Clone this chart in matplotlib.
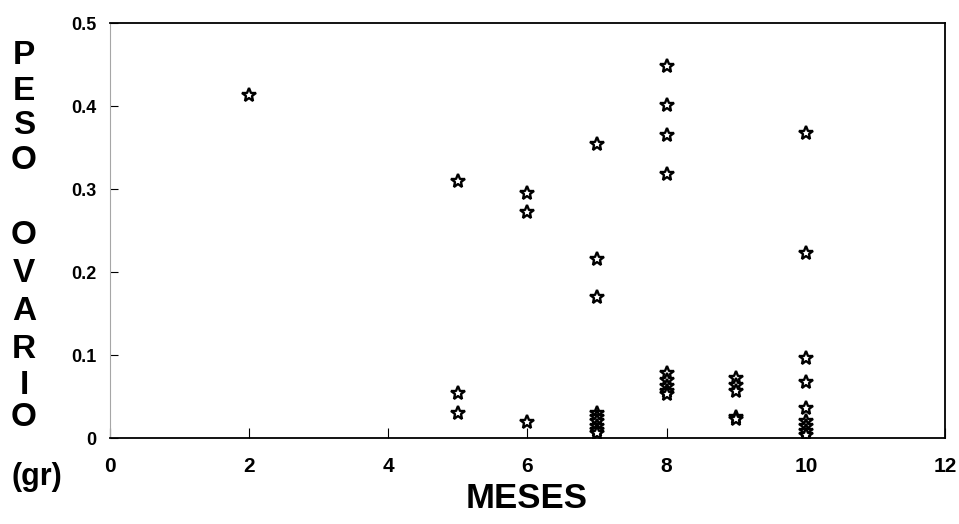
import matplotlib.pyplot as plt

# peso del ovario (gr) por mes
meses = [2,
         5, 5, 5,
         6, 6, 6,
         7, 7, 7, 7, 7, 7, 7, 7, 7,
         8, 8, 8, 8, 8, 8, 8, 8, 8,
         9, 9, 9, 9, 9,
         10, 10, 10, 10, 10, 10, 10, 10, 10]
peso = [0.413,
        0.310, 0.054, 0.030,
        0.295, 0.272, 0.019,
        0.354, 0.216, 0.170, 0.030, 0.025, 0.020, 0.015, 0.010, 0.006,
        0.448, 0.401, 0.365, 0.318, 0.078, 0.070, 0.063, 0.057, 0.053,
        0.072, 0.064, 0.057, 0.025, 0.023,
        0.367, 0.223, 0.096, 0.067, 0.036, 0.020, 0.014, 0.008, 0.004]

xticks = [0, 2, 4, 6, 8, 10, 12]
yticks = [0, 0.1, 0.2, 0.3, 0.4, 0.5]
ylabels = ['0', '0.1', '0.2', '0.3', '0.4', '0.5']

plt.rcParams['font.family'] = ['Liberation Sans', 'DejaVu Sans']
plt.rcParams['font.weight'] = 'bold'

fig = plt.figure(figsize=(9.59, 5.24), dpi=100)
ax = fig.add_axes([0.1147, 0.1641, 0.8707, 0.792])

ax.plot(meses, peso, linestyle='none', marker='*', markersize=10.5,
        markerfacecolor='white', markeredgecolor='black', markeredgewidth=1.7)

ax.set_xlim(0, 12)
ax.set_ylim(0, 0.5)
ax.set_xticks(xticks)
ax.set_yticks(yticks)
ax.set_yticklabels(ylabels)
ax.tick_params(axis='x', direction='in', length=7, labelsize=15, pad=14)
ax.tick_params(axis='y', direction='in', length=6, labelsize=13, pad=10)

for s in ['top', 'right', 'bottom']:
    ax.spines[s].set_linewidth(1.3)
ax.spines['left'].set_color('0.65')
ax.spines['left'].set_linewidth(0.8)
ax.spines['left'].set_linestyle((0, (4, 1)))

# etiqueta vertical, letra por letra
letras = ['P', 'E', 'S', 'O', 'O', 'V', 'A', 'R', 'I', 'O']
ypix = [56, 91, 126, 161, 236, 273, 312, 350, 385, 417]
for l, yp in zip(letras, ypix):
    fig.text(24 / 959, 1 - yp / 524, l, fontsize=24, ha='center', va='center')
fig.text(37 / 959, 1 - 477 / 524, '(gr)', fontsize=22, ha='center', va='center')

fig.text(527 / 959, 1 - 498 / 524, 'MESES', fontsize=25, ha='center', va='center')

plt.savefig('out.png', dpi=100)
